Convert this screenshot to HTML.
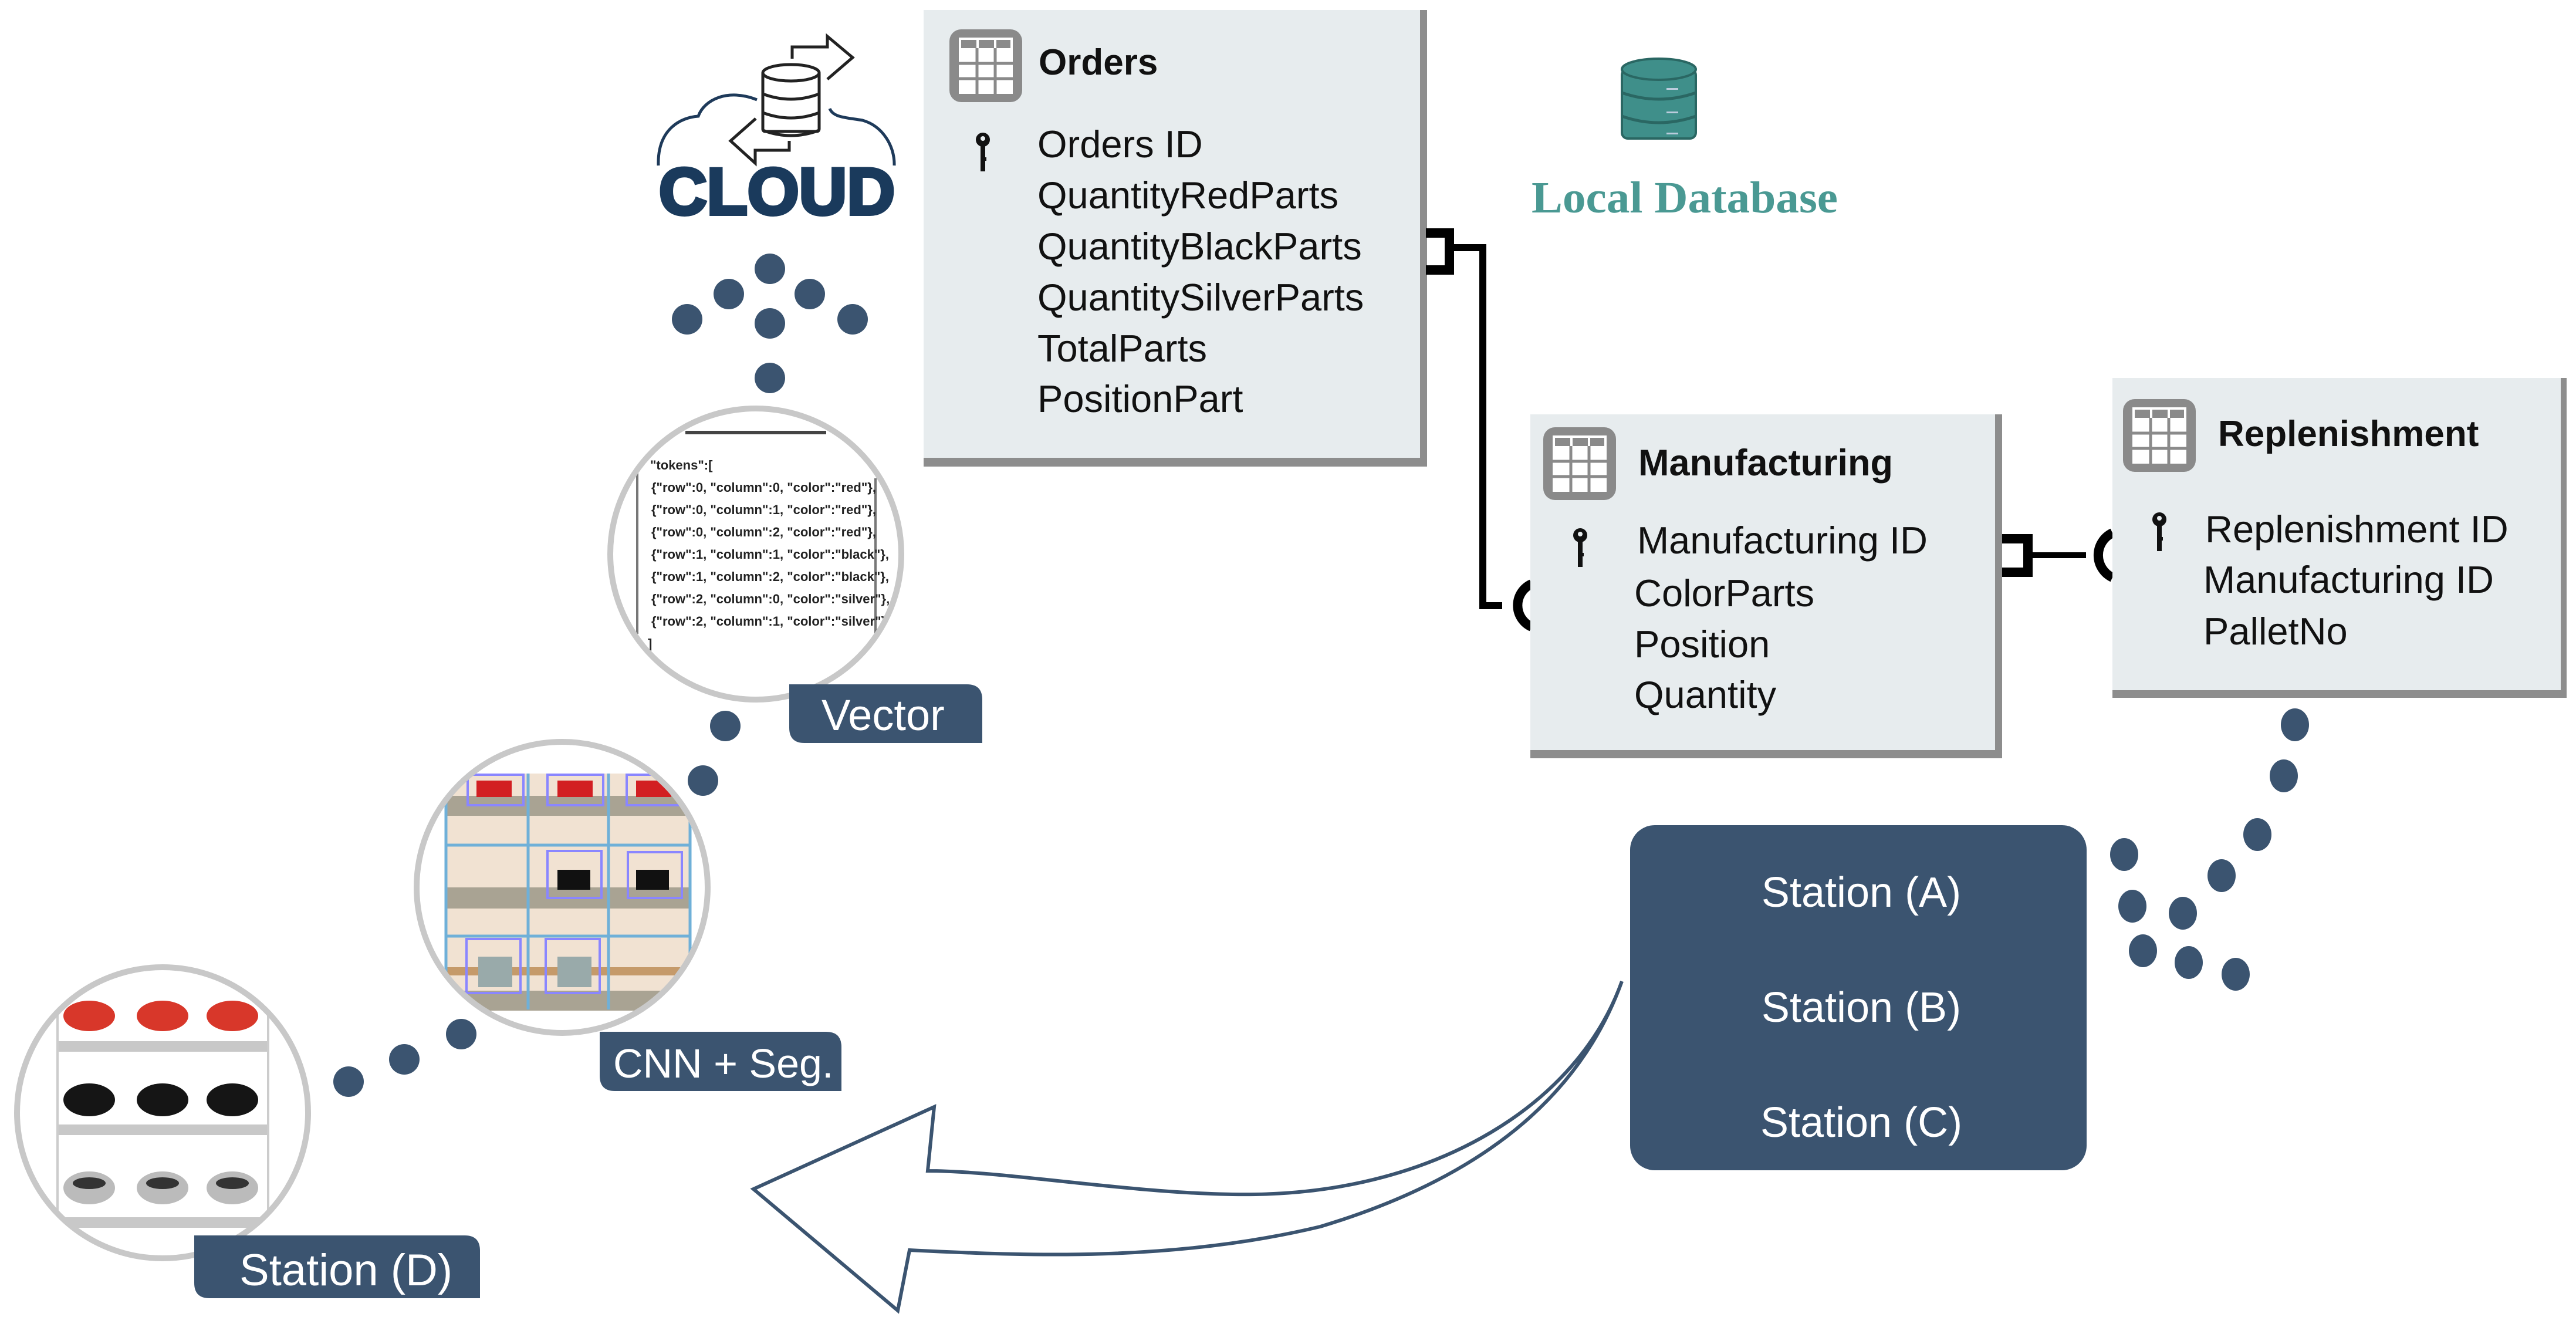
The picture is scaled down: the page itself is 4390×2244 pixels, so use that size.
<!DOCTYPE html>
<html><head><meta charset="utf-8"><style>
html,body{margin:0;padding:0;background:#fff;}
svg{display:block;}
text{font-family:"Liberation Sans",sans-serif;}
</style></head><body>
<svg width="4390" height="2244" viewBox="0 0 4390 2244" xmlns="http://www.w3.org/2000/svg">
<defs>
<clipPath id="cV"><circle cx="1288" cy="944" r="246"/></clipPath>
<clipPath id="cC"><circle cx="958" cy="1512" r="246"/></clipPath>
<clipPath id="cD"><circle cx="277" cy="1896" r="246"/></clipPath>
<g id="tbl">
<rect x="0" y="0" width="124" height="124" rx="20" fill="#8a8a8a"/>
<rect x="16" y="14" width="92" height="96" fill="#fff"/>
<rect x="20" y="18" width="26" height="14" fill="#8a8a8a"/><rect x="50" y="18" width="26" height="14" fill="#8a8a8a"/><rect x="80" y="18" width="24" height="14" fill="#8a8a8a"/>
<line x1="47" y1="32" x2="47" y2="110" stroke="#8a8a8a" stroke-width="5"/><line x1="78" y1="32" x2="78" y2="110" stroke="#8a8a8a" stroke-width="5"/>
<line x1="16" y1="58" x2="108" y2="58" stroke="#8a8a8a" stroke-width="5"/><line x1="16" y1="84" x2="108" y2="84" stroke="#8a8a8a" stroke-width="5"/>
</g>
<g id="key"><circle cx="0" cy="0" r="12" fill="#111"/><circle cx="0" cy="-2" r="4" fill="#e7ecee"/><rect x="-4" y="8" width="8" height="46" fill="#111"/><rect x="-4" y="30" width="10" height="6" fill="#111"/></g>
</defs>

<!-- Orders -->
<rect x="1574" y="17" width="856" height="773" fill="#e7ecee"/>
<rect x="2420" y="17" width="12" height="778" fill="#8d8d8d"/>
<rect x="1574" y="780" width="858" height="15" fill="#8d8d8d"/>
<use href="#tbl" x="1618" y="50"/>
<text x="1770" y="127" font-size="62" font-weight="bold" fill="#111">Orders</text>
<use href="#key" x="1675" y="238"/>
<g font-size="65" fill="#111">
<text x="1768" y="268">Orders ID</text>
<text x="1768" y="355">QuantityRedParts</text>
<text x="1768" y="442">QuantityBlackParts</text>
<text x="1768" y="529">QuantitySilverParts</text>
<text x="1768" y="616">TotalParts</text>
<text x="1768" y="702">PositionPart</text>
</g>

<!-- Local DB -->
<g fill="#3f8f8a" stroke="#2a6763" stroke-width="4">
<rect x="2764" y="118" width="126" height="118" rx="10"/>
<ellipse cx="2827" cy="118" rx="63" ry="18"/>
</g>
<g stroke="#2a6763" stroke-width="5" fill="none"><path d="M2764 158 Q2827 180 2890 158"/><path d="M2764 198 Q2827 220 2890 198"/></g>
<g fill="#bcd"><rect x="2840" y="150" width="20" height="3"/><rect x="2840" y="190" width="20" height="3"/><rect x="2840" y="226" width="20" height="3"/></g>
<text x="2610" y="362" style="font-family:'Liberation Serif',serif;font-weight:bold" font-size="76" fill="#4a9993" textLength="522" lengthAdjust="spacingAndGlyphs">Local Database</text>

<!-- connector Orders-Manufacturing -->
<path d="M2430 397 H2470 V460 H2430" fill="none" stroke="#000" stroke-width="16"/>
<path d="M2470 422 H2527 V1032 H2560" fill="none" stroke="#000" stroke-width="12"/>
<path d="M2610 995 A40 40 0 0 0 2610 1068" fill="none" stroke="#000" stroke-width="16"/>

<!-- Manufacturing -->
<rect x="2608" y="706" width="800" height="578" fill="#e7ecee"/>
<rect x="3400" y="706" width="12" height="585" fill="#8d8d8d"/>
<rect x="2608" y="1278" width="804" height="14" fill="#8d8d8d"/>
<use href="#tbl" x="2630" y="728"/>
<text x="2792" y="810" font-size="63" font-weight="bold" fill="#111">Manufacturing</text>
<use href="#key" x="2693" y="912"/>
<g font-size="65" fill="#111">
<text x="2790" y="943">Manufacturing ID</text>
<text x="2785" y="1033">ColorParts</text>
<text x="2785" y="1120">Position</text>
<text x="2785" y="1206">Quantity</text>
</g>

<!-- connector Manufacturing-Replenishment -->
<path d="M3412 918 H3456 V975 H3412" fill="none" stroke="#000" stroke-width="16"/>
<path d="M3456 946 H3555" fill="none" stroke="#000" stroke-width="10"/>
<path d="M3600 908 A42 42 0 0 0 3600 984" fill="none" stroke="#000" stroke-width="16"/>

<!-- Replenishment -->
<rect x="3600" y="644" width="768" height="540" fill="#e7ecee"/>
<rect x="4364" y="644" width="10" height="545" fill="#8d8d8d"/>
<rect x="3600" y="1176" width="774" height="13" fill="#8d8d8d"/>
<use href="#tbl" x="3618" y="680"/>
<text x="3780" y="760" font-size="62" font-weight="bold" fill="#111">Replenishment</text>
<use href="#key" x="3680" y="885"/>
<g font-size="65" fill="#111">
<text x="3758" y="924">Replenishment ID</text>
<text x="3755" y="1010">Manufacturing ID</text>
<text x="3755" y="1098">PalletNo</text>
</g>

<!-- right dots -->
<g fill="#3b5470">
<ellipse cx="3911" cy="1235" rx="24" ry="28"/><ellipse cx="3892" cy="1322" rx="24" ry="28"/><ellipse cx="3847" cy="1422" rx="24" ry="28"/>
<ellipse cx="3786" cy="1492" rx="24" ry="28"/><ellipse cx="3720" cy="1556" rx="24" ry="28"/><ellipse cx="3620" cy="1456" rx="24" ry="28"/>
<ellipse cx="3634" cy="1544" rx="24" ry="28"/><ellipse cx="3652" cy="1620" rx="24" ry="28"/><ellipse cx="3730" cy="1640" rx="24" ry="28"/><ellipse cx="3810" cy="1660" rx="24" ry="28"/>
</g>

<!-- Station box -->
<rect x="2778" y="1406" width="778" height="588" rx="42" fill="#3b5470"/>
<g font-size="72" fill="#fff" text-anchor="middle">
<text x="3172" y="1545">Station (A)</text>
<text x="3172" y="1741">Station (B)</text>
<text x="3172" y="1937">Station (C)</text>
</g>

<!-- big curved arrow -->
<path d="M2764 1672 C2690 1880 2450 2030 2140 2035 C1950 2038 1720 1995 1581 1995 L1592 1886 L1284 2026 L1530 2233 L1550 2130 C1750 2140 2000 2150 2250 2090 C2550 2000 2700 1850 2764 1672 Z" fill="#fff" stroke="#3b5470" stroke-width="6" stroke-linejoin="miter"/>

<!-- CLOUD -->
<path d="M1122 282 C1120 220 1160 200 1190 198 C1200 170 1240 150 1290 170" fill="none" stroke="#1e3a5a" stroke-width="5"/>
<path d="M1414 185 C1420 200 1440 200 1470 205 C1505 215 1525 250 1524 282" fill="none" stroke="#1e3a5a" stroke-width="5"/>
<g fill="#fff" stroke="#222" stroke-width="5">
<rect x="1300" y="122" width="96" height="102" rx="4"/>
<ellipse cx="1348" cy="124" rx="48" ry="14"/>
</g>
<g fill="none" stroke="#222" stroke-width="5">
<path d="M1300 160 Q1348 178 1396 160"/><path d="M1300 192 Q1348 210 1396 192"/><path d="M1300 222 Q1348 240 1396 222"/>
<path d="M1350 100 V80 H1410 V62 L1453 98 L1410 135"/>
<path d="M1288 202 L1245 240 L1287 278 V256 H1345 V240"/>
</g>
<text x="1123" y="365" font-size="112" fill="#1a3a5c" textLength="402" lengthAdjust="spacingAndGlyphs" style="font-family:'Liberation Sans',sans-serif;font-weight:bold;stroke:#1a3a5c;stroke-width:6">CLOUD</text>

<!-- top dots -->
<g fill="#3b5470">
<circle cx="1312" cy="458" r="26"/><circle cx="1242" cy="501" r="26"/><circle cx="1171" cy="544" r="26"/>
<circle cx="1380" cy="501" r="26"/><circle cx="1453" cy="544" r="26"/><circle cx="1312" cy="551" r="26"/><circle cx="1312" cy="644" r="26"/>
<circle cx="1236" cy="1237" r="26"/><circle cx="1198" cy="1330" r="26"/>
<circle cx="786" cy="1762" r="26"/><circle cx="689" cy="1805" r="26"/><circle cx="594" cy="1843" r="26"/>
</g>

<!-- Vector circle -->
<circle cx="1288" cy="944" r="248" fill="#fff"/>
<g clip-path="url(#cV)">
<rect x="1168" y="734" width="240" height="6" fill="#444"/>
<line x1="1086" y1="805" x2="1086" y2="1080" stroke="#777" stroke-width="4"/>
<line x1="1492" y1="815" x2="1492" y2="1080" stroke="#777" stroke-width="4"/>
<g font-size="22" fill="#222" font-weight="bold">
<text x="1108" y="800">"tokens":[</text>
<text x="1110" y="838">{"row":0, "column":0, "color":"red"},</text>
<text x="1110" y="876">{"row":0, "column":1, "color":"red"},</text>
<text x="1110" y="914">{"row":0, "column":2, "color":"red"},</text>
<text x="1110" y="952">{"row":1, "column":1, "color":"black"},</text>
<text x="1110" y="990">{"row":1, "column":2, "color":"black"},</text>
<text x="1110" y="1028">{"row":2, "column":0, "color":"silver"},</text>
<text x="1110" y="1066">{"row":2, "column":1, "color":"silver"}</text>
<text x="1104" y="1104">]</text>
</g>
</g>
<circle cx="1288" cy="944" r="248" fill="none" stroke="#c8c8c8" stroke-width="10"/>

<!-- CNN circle -->
<circle cx="958" cy="1512" r="248" fill="#fff"/>
<g clip-path="url(#cC)">
<rect x="758" y="1318" width="420" height="402" fill="#f1e2d2"/>
<rect x="758" y="1356" width="420" height="34" fill="#a9a393"/>
<rect x="758" y="1512" width="420" height="36" fill="#a9a393"/>
<rect x="758" y="1648" width="420" height="14" fill="#c59a6a"/>
<rect x="758" y="1688" width="420" height="34" fill="#a9a393"/>
<g fill="#d21f22"><rect x="812" y="1330" width="60" height="28"/><rect x="950" y="1330" width="60" height="28"/><rect x="1084" y="1330" width="60" height="28"/></g>
<g fill="#111"><rect x="950" y="1482" width="56" height="34"/><rect x="1084" y="1482" width="56" height="34"/></g>
<g fill="#9aa"><rect x="815" y="1630" width="58" height="52"/><rect x="950" y="1630" width="58" height="52"/></g>
<g fill="none" stroke="#8a86ff" stroke-width="4">
<rect x="797" y="1320" width="95" height="52"/><rect x="933" y="1320" width="95" height="52"/><rect x="1068" y="1320" width="95" height="52"/>
<rect x="933" y="1450" width="92" height="80"/><rect x="1070" y="1452" width="92" height="78"/>
<rect x="795" y="1600" width="92" height="92"/><rect x="930" y="1600" width="92" height="92"/>
</g>
<g stroke="#6fb0d8" stroke-width="5">
<line x1="760" y1="1318" x2="760" y2="1720"/><line x1="900" y1="1318" x2="900" y2="1720"/><line x1="1037" y1="1318" x2="1037" y2="1720"/><line x1="1176" y1="1318" x2="1176" y2="1720"/>
<line x1="758" y1="1440" x2="1178" y2="1440"/><line x1="758" y1="1595" x2="1178" y2="1595"/>
</g>
</g>
<circle cx="958" cy="1512" r="248" fill="none" stroke="#c8c8c8" stroke-width="10"/>

<!-- Station D circle -->
<circle cx="277" cy="1896" r="248" fill="#fff"/>
<g clip-path="url(#cD)">
<rect x="98" y="1774" width="360" height="18" fill="#c8c8c8"/>
<rect x="98" y="1916" width="360" height="18" fill="#c8c8c8"/>
<rect x="98" y="2074" width="360" height="18" fill="#c8c8c8"/>
<rect x="96" y="1680" width="4" height="420" fill="#ccc"/><rect x="455" y="1680" width="4" height="420" fill="#ccc"/>
<g fill="#d8372a"><ellipse cx="152" cy="1731" rx="44" ry="26"/><ellipse cx="277" cy="1731" rx="44" ry="26"/><ellipse cx="396" cy="1731" rx="44" ry="26"/></g>
<g fill="#151515"><ellipse cx="152" cy="1874" rx="44" ry="28"/><ellipse cx="277" cy="1874" rx="44" ry="28"/><ellipse cx="396" cy="1874" rx="44" ry="28"/></g>
<g fill="#bbb"><ellipse cx="152" cy="2024" rx="44" ry="28"/><ellipse cx="277" cy="2024" rx="44" ry="28"/><ellipse cx="396" cy="2024" rx="44" ry="28"/></g>
<g fill="#333"><ellipse cx="152" cy="2016" rx="28" ry="10"/><ellipse cx="277" cy="2016" rx="28" ry="10"/><ellipse cx="396" cy="2016" rx="28" ry="10"/></g>
</g>
<circle cx="277" cy="1896" r="248" fill="none" stroke="#c8c8c8" stroke-width="10"/>

<!-- labels -->
<path d="M1345 1166 H1648 Q1674 1166 1674 1192 V1266 H1371 Q1345 1266 1345 1240 Z" fill="#3b5470"/>
<text x="1400" y="1244" font-size="74" fill="#fff">Vector</text>
<path d="M1022 1758 H1408 Q1434 1758 1434 1784 V1859 H1048 Q1022 1859 1022 1833 Z" fill="#3b5470"/>
<text x="1045" y="1836" font-size="70" fill="#fff">CNN + Seg.</text>
<path d="M331 2105 H792 Q818 2105 818 2131 V2212 H357 Q331 2212 331 2186 Z" fill="#3b5470"/>
<text x="408" y="2190" font-size="76" fill="#fff">Station (D)</text>
</svg>
</body></html>
